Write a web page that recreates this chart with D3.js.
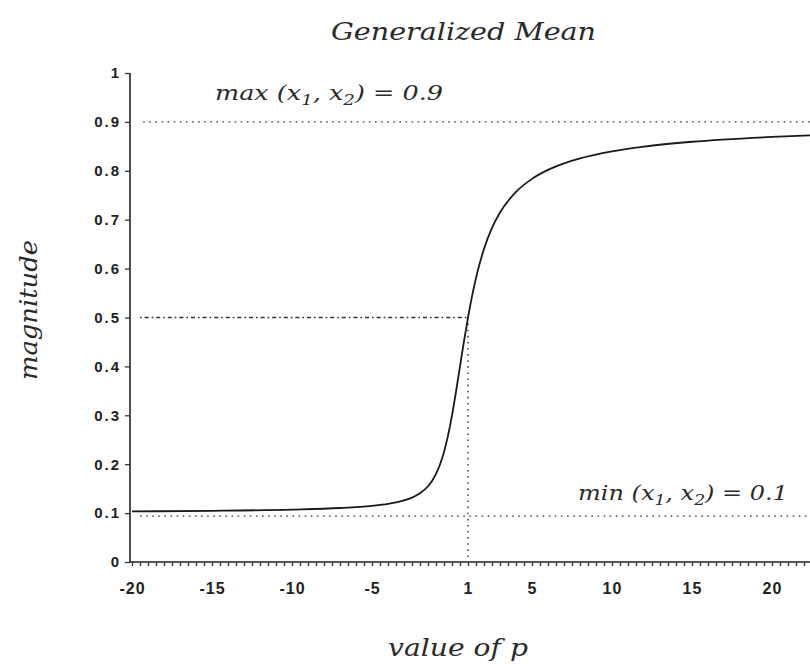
<!DOCTYPE html>
<html>
<head>
<meta charset="utf-8">
<script src="https://cdn.jsdelivr.net/npm/d3@7"></script>
<style>
  body { margin: 0; background: #fff; }
  svg { display: block; }
  .tick text { font-family: "Liberation Sans", Arial, sans-serif; font-weight: bold; fill: #222; }
  .serif { font-family: "DejaVu Serif", serif; font-style: italic; fill: #2a2a2a; }
</style>
</head>
<body>
<script>
// values of p and the generalized mean of x1 = 0.1, x2 = 0.9
var pValues = [-20, -15, -10, -7, -5, -4, -3, -2.5, -2, -1.5, -1.25, -1, -0.75, -0.5, -0.25,
  0, 0.25, 0.5, 0.75, 1, 1.25, 1.5, 2, 2.5, 3, 4, 5, 6, 7, 8, 10, 12, 15, 20, 22.5];
var magnitude = [0.1035, 0.1047, 0.1072, 0.1104, 0.1149, 0.1189, 0.1259, 0.1317, 0.1406, 0.1549,
  0.1657, 0.18, 0.1993, 0.225, 0.2585, 0.3, 0.3482, 0.4, 0.4517, 0.5, 0.5433, 0.5809, 0.6403,
  0.6832, 0.7146, 0.7568, 0.7835, 0.8018, 0.8151, 0.8253, 0.8397, 0.8495, 0.8594, 0.8693, 0.8727];

var xTicks = [-20, -15, -10, -5, 1, 5, 10, 15, 20];
var xTickLabels = ["-20", "-15", "-10", "-5", "1", "5", "10", "15", "20"];
var yTicks = [0, 0.1, 0.2, 0.3, 0.4, 0.5, 0.6, 0.7, 0.8, 0.9, 1];
var yTickLabels = ["0", "0.1", "0.2", "0.3", "0.4", "0.5", "0.6", "0.7", "0.8", "0.9", "1"];

var maxValue = 0.9;
var minValue = 0.1;
var crossP = 1;     // p where the mean equals the arithmetic mean
var crossValue = 0.5;

var width = 810, height = 667;

var svg = d3.select("body").append("svg")
  .attr("width", width)
  .attr("height", height);

var x = d3.scaleLinear().domain([-20, 22.5]).range([132, 812]);
var y = d3.scaleLinear().domain([0, 1]).range([562, 73]);

// x axis with minor ticks every half unit
var minorTicks = d3.range(-20, 22.6, 0.5);
svg.append("g")
  .attr("transform", "translate(0," + y(0) + ")")
  .call(d3.axisBottom(x).tickValues(minorTicks).tickSize(4).tickFormat(""))
  .call(function(g){ g.select(".domain").attr("d", "M" + (x(-20) - 2) + ",0H" + width).attr("stroke", "#222").attr("stroke-width", 1.6); })
  .selectAll(".tick line").attr("stroke", "#333").attr("stroke-width", 1.3);

svg.append("g")
  .attr("transform", "translate(0," + y(0) + ")")
  .call(d3.axisBottom(x).tickValues(xTicks).tickSize(0).tickPadding(21)
    .tickFormat(function(d, i){ return xTickLabels[i]; }))
  .call(function(g){ g.select(".domain").remove(); })
  .selectAll("text").attr("font-size", 16).attr("letter-spacing", 1);

// y axis
svg.append("g")
  .attr("transform", "translate(" + (x(-20) - 2) + ",0)")
  .call(d3.axisLeft(y).tickValues(yTicks).tickSize(5).tickPadding(4)
    .tickFormat(function(d, i){ return yTickLabels[i]; }))
  .call(function(g){ g.select(".domain").attr("d", "M0," + y(1) + "V" + y(0)).attr("stroke", "#222").attr("stroke-width", 1.6); })
  .call(function(g){ g.selectAll(".tick line").attr("stroke", "#333").attr("stroke-width", 1.3); })
  .selectAll("text").attr("font-size", 15).attr("letter-spacing", 2);

// reference lines
var dotted = "1.6,4.5";
svg.append("line")
  .attr("x1", x(-19.3)).attr("x2", width)
  .attr("y1", y(maxValue)).attr("y2", y(maxValue))
  .attr("stroke", "#333").attr("stroke-width", 1.4).attr("stroke-dasharray", dotted);
svg.append("line")
  .attr("x1", x(-19.5)).attr("x2", x(crossP))
  .attr("y1", y(crossValue)).attr("y2", y(crossValue))
  .attr("stroke", "#333").attr("stroke-width", 1.4).attr("stroke-dasharray", "1.6,3,4,3");
svg.append("line")
  .attr("x1", x(crossP)).attr("x2", x(crossP))
  .attr("y1", y(crossValue)).attr("y2", y(0))
  .attr("stroke", "#333").attr("stroke-width", 1.4).attr("stroke-dasharray", dotted);
svg.append("line")
  .attr("x1", x(-19.5)).attr("x2", width)
  .attr("y1", y(minValue) + 3).attr("y2", y(minValue) + 3)
  .attr("stroke", "#333").attr("stroke-width", 1.4).attr("stroke-dasharray", dotted);

// curve
var pts = pValues.map(function(p, i){ return {p: p, m: magnitude[i]}; });
var line = d3.line()
  .x(function(d){ return x(d.p); })
  .y(function(d){ return y(d.m); })
  .curve(d3.curveMonotoneX);
svg.append("path")
  .datum(pts)
  .attr("d", line)
  .attr("fill", "none")
  .attr("stroke", "#1a1a1a")
  .attr("stroke-width", 1.8);

// titles and notes
svg.append("text").attr("class", "serif")
  .attr("x", 331).attr("y", 40)
  .attr("font-size", 25)
  .attr("textLength", 265).attr("lengthAdjust", "spacingAndGlyphs")
  .text("Generalized Mean");

function note(xPos, yPos, name, val, len) {
  var t = svg.append("text").attr("class", "serif")
    .attr("x", xPos).attr("y", yPos).attr("font-size", 21)
    .attr("textLength", len).attr("lengthAdjust", "spacingAndGlyphs");
  t.append("tspan").text(name + " (x");
  t.append("tspan").attr("dy", 5).attr("font-size", 15).text("1");
  t.append("tspan").attr("dy", -5).text(", x");
  t.append("tspan").attr("dy", 5).attr("font-size", 15).text("2");
  t.append("tspan").attr("dy", -5).text(") = " + val);
}
note(215, 100, "max", "0.9", 228);
note(578, 500, "min", "0.1", 210);

svg.append("text").attr("class", "serif")
  .attr("transform", "translate(37,310) rotate(-90)")
  .attr("text-anchor", "middle").attr("font-size", 25)
  .attr("textLength", 140).attr("lengthAdjust", "spacingAndGlyphs")
  .text("magnitude");

svg.append("text").attr("class", "serif")
  .attr("x", 458).attr("y", 656)
  .attr("text-anchor", "middle").attr("font-size", 25)
  .attr("textLength", 140).attr("lengthAdjust", "spacingAndGlyphs")
  .text("value of  p");
</script>
</body>
</html>
